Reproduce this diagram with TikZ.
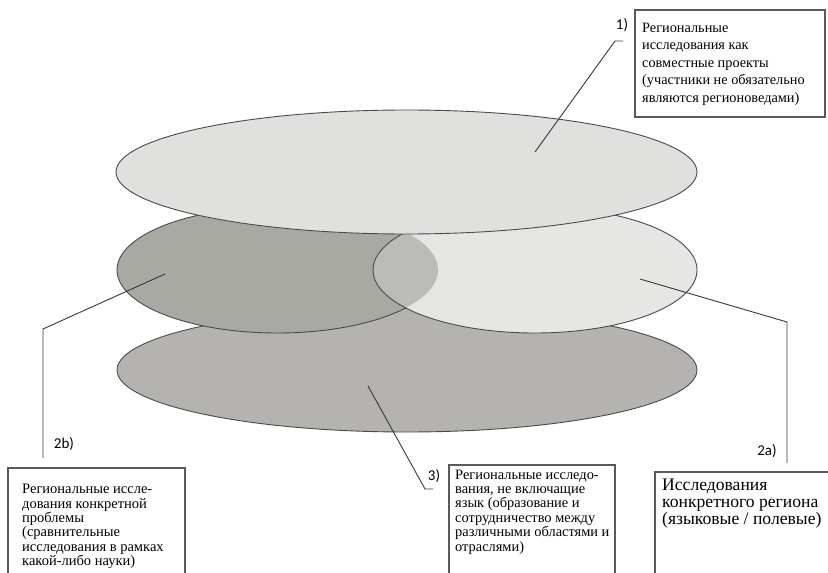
\documentclass[tikz,border=0pt]{standalone}
\usepackage{fontspec}
\setmainfont{Liberation Serif}
\newfontfamily\boxserif{Liberation Serif}
\newfontfamily\labelsans{Carlito}
\usetikzlibrary{shapes.geometric}
\definecolor{topfill}{HTML}{E0E0DF}
\definecolor{afill}{HTML}{E6E6E5}
\definecolor{bfill}{HTML}{A9A9A4}
\definecolor{botfill}{HTML}{B4B3B0}
\definecolor{edgecol}{HTML}{4A4A4A}
\definecolor{boxcol}{HTML}{5A5A5A}
\definecolor{leadcol}{HTML}{383838}
\begin{document}
\begin{tikzpicture}[x=1pt,y=-1pt,
  disc/.style={ellipse, inner sep=0pt, line width=0.9pt},
  frame/.style={draw=boxcol, line width=1.1pt},
  leader/.style={draw=leadcol, line width=0.9pt},
  lbl/.style={font=\labelsans\fontsize{15pt}{17pt}\selectfont, inner sep=0pt, text=black},
  txt/.style={anchor=north west, align=left, inner sep=0pt, text=black}]
\useasboundingbox (0,0) rectangle (828,573);
\begin{scope}
\clip (0,0) rectangle (828,573);
% ellipses
\node[disc, fill=botfill, draw=edgecol, minimum width=580pt, minimum height=124pt] (bot) at (407,370) {};
\node[disc, fill=bfill, draw=edgecol, minimum width=321pt, minimum height=126pt] (midb) at (277.5,270) {};
\node[disc, fill=afill, minimum width=324pt, minimum height=126pt] (mida) at (535,270) {};
\begin{scope}
  \clip (mida.center) ellipse [x radius=162pt, y radius=63pt];
  \fill[bfill, opacity=0.7] (midb.center) ellipse [x radius=160.5pt, y radius=63pt];
\end{scope}
\node[disc, draw=edgecol, minimum width=324pt, minimum height=126pt] (midaedge) at (mida.center) {};
\node[disc, fill=topfill, draw=edgecol, minimum width=581pt, minimum height=124pt] (top) at (406.5,172) {};
% boxes
\draw[frame] (635,10) rectangle (825,117);
\draw[frame] (8,468) rectangle (185,600);
\draw[frame] (449,465) rectangle (615,600);
\draw[frame] (655,472) rectangle (850,600);
\end{scope}
% texts
\node[txt, font=\boxserif\fontsize{14.3pt}{17.5pt}\selectfont] (t1) at (642,22.5)
  {Региональные\\исследования как\\совместные проекты\\(участники не обязательно\\являются регионоведами)};
\node[txt, font=\boxserif\fontsize{17.6pt}{17pt}\selectfont] (t2a) at (662,478.5)
  {Исследования\\конкретного региона\\(языковые / полевые)};
\node[txt, font=\boxserif\fontsize{14.5pt}{14.4pt}\selectfont] (t2b) at (22,484)
  {Региональные иссле-\\дования конкретной\\проблемы\\(сравнительные\\исследования в рамках\\какой-либо науки)};
\node[txt, font=\boxserif\fontsize{14.4pt}{14.4pt}\selectfont] (t3) at (455,469.5)
  {Региональные исследо-\\вания, не включащие\\язык (образование и\\сотрудничество между\\различными областями и\\отраслями)};
% labels
\node[lbl] (l1) at (622,25) {1)};
\node[lbl] (l2a) at (767,451) {2a)};
\node[lbl] (l2b) at (64,444) {2b)};
\node[lbl] (l3) at (434,476) {3)};
% leaders
\coordinate (p1) at (535,152); \coordinate (k1) at (615,41); \coordinate (e1) at (623,41);
\coordinate (p2a) at (640,279); \coordinate (k2a) at (787,322); \coordinate (e2a) at (787,463);
\coordinate (p2b) at (165,274); \coordinate (k2b) at (43,329); \coordinate (e2b) at (43,458);
\coordinate (p3) at (368,386); \coordinate (k3) at (425,489); \coordinate (e3) at (433,489);
\draw[leader] (p1) -- (k1) -- (e1);
\draw[leader] (p2a) -- (k2a) -- (e2a);
\draw[leader] (p2b) -- (k2b) -- (e2b);
\draw[leader] (p3) -- (k3) -- (e3);
\end{tikzpicture}
\end{document}
